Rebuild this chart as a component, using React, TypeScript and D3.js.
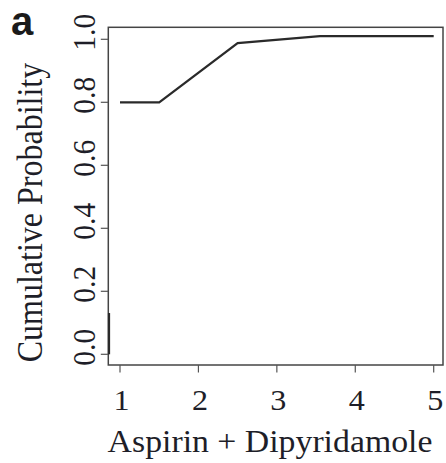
import React, { useEffect, useRef } from "react";
import * as d3 from "d3";

const xTicks = [1, 2, 3, 4, 5];
const yTicks = [0.0, 0.2, 0.4, 0.6, 0.8, 1.0];
const yTickLabels = ["0.0", "0.2", "0.4", "0.6", "0.8", "1.0"];
const stepX = [1, 1.5, 2.5, 3.55, 5];
const stepY = [0.8, 0.8, 0.988, 1.01, 1.01];
const edgeX = [0.86, 0.86];
const edgeY = [0.0, 0.131];
const xLabel = "Aspirin + Dipyridamole";
const yLabel = "Cumulative Probability";
const panelLabel = "a";

const W = 446;
const H = 463;

export default function App() {
  const ref = useRef<SVGSVGElement | null>(null);

  useEffect(() => {
    const svg = d3.select(ref.current);
    svg.selectAll("*").remove();

    const x = d3.scaleLinear().domain([1, 5]).range([120, 433.7]);
    const y = d3.scaleLinear().domain([0, 1]).range([354.3, 39.3]);
    const box = { x0: 108.3, x1: 443, y0: 27.3, y1: 365 };
    const font = "'Liberation Serif', 'Times New Roman', serif";
    const textColor = "#1e1e28";
    const sx = 1.09;

    // panel label
    svg
      .append("text")
      .attr("x", 11)
      .attr("y", 34.5)
      .attr("font-family", "'Liberation Sans', Arial, sans-serif")
      .attr("font-weight", "bold")
      .attr("font-size", 40)
      .attr("fill", "#1a1a1a")
      .text(panelLabel);

    // box
    svg
      .append("rect")
      .attr("x", box.x0)
      .attr("y", box.y0)
      .attr("width", box.x1 - box.x0)
      .attr("height", box.y1 - box.y0)
      .attr("fill", "none")
      .attr("stroke", "#444")
      .attr("stroke-width", 1.5);

    // y ticks
    const gy = svg.append("g");
    gy.selectAll("line")
      .data(yTicks)
      .enter()
      .append("line")
      .attr("x1", box.x0 - 7.5)
      .attr("x2", box.x0)
      .attr("y1", (d) => y(d))
      .attr("y2", (d) => y(d))
      .attr("stroke", "#555")
      .attr("stroke-width", 1.2);
    gy.selectAll("text")
      .data(yTicks)
      .enter()
      .append("text")
      .attr("transform", (d) => `translate(95,${y(d) - 7}) scale(${sx},1) rotate(-90)`)
      .attr("text-anchor", "middle")
      .attr("font-family", font)
      .attr("font-size", 29.5)
      .attr("fill", textColor)
      .text((d, i) => yTickLabels[i]);

    // x ticks
    const gx = svg.append("g");
    gx.selectAll("line")
      .data(xTicks)
      .enter()
      .append("line")
      .attr("x1", (d) => x(d))
      .attr("x2", (d) => x(d))
      .attr("y1", box.y1)
      .attr("y2", box.y1 + 7.5)
      .attr("stroke", "#555")
      .attr("stroke-width", 1.2);
    gx.selectAll("text")
      .data(xTicks)
      .enter()
      .append("text")
      .attr("transform", (d) => `translate(${x(d) + 1.5},409.5) scale(${sx},1)`)
      .attr("text-anchor", "middle")
      .attr("font-family", font)
      .attr("font-size", 29.5)
      .attr("fill", textColor)
      .text((d) => String(d));

    // axis labels
    svg
      .append("text")
      .attr("transform", `translate(270,451.5) scale(${sx},1)`)
      .attr("text-anchor", "middle")
      .attr("font-family", font)
      .attr("font-size", 31)
      .attr("fill", textColor)
      .text(xLabel);

    svg
      .append("text")
      .attr("transform", `translate(41.5,212.5) scale(${sx},1) rotate(-90)`)
      .attr("text-anchor", "middle")
      .attr("font-family", font)
      .attr("font-size", 32)
      .attr("fill", textColor)
      .text(yLabel);

    // ECDF line
    const line = d3
      .line<number>()
      .x((d, i) => x(stepX[i]))
      .y((d, i) => y(stepY[i]));
    svg
      .append("path")
      .attr("d", line(stepX) || "")
      .attr("fill", "none")
      .attr("stroke", "#2a2a2a")
      .attr("stroke-width", 2.2)
      .attr("stroke-linejoin", "miter");

    const edgeLine = d3
      .line<number>()
      .x((d, i) => Math.max(x(edgeX[i]), box.x0 - 1))
      .y((d, i) => y(edgeY[i]));
    svg
      .append("path")
      .attr("d", edgeLine(edgeX) || "")
      .attr("fill", "none")
      .attr("stroke", "#2a2a2a")
      .attr("stroke-width", 2.2);
  }, []);

  return (
    <svg
      ref={ref}
      width={W}
      height={H}
      style={{ position: "absolute", left: 0, top: 0, background: "#fff" }}
    />
  );
}
